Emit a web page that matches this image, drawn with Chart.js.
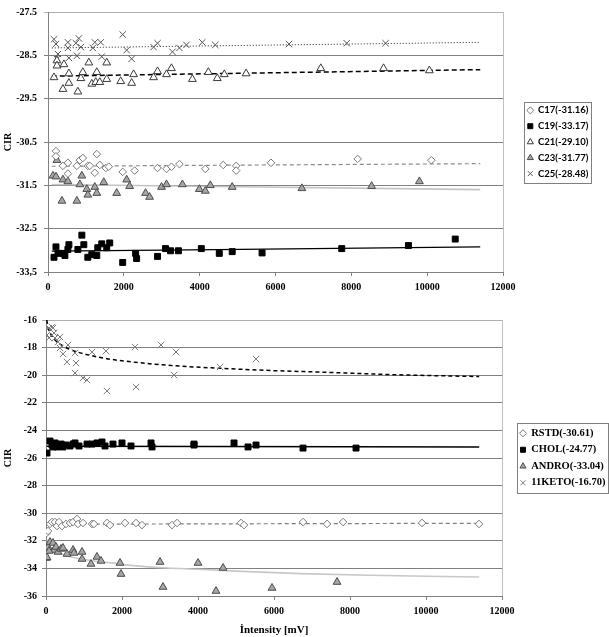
<!DOCTYPE html>
<html><head><meta charset="utf-8">
<script src="https://cdn.jsdelivr.net/npm/chart.js@4/dist/chart.umd.min.js"></script>
<style>
html,body{margin:0;padding:0;background:#fff;}
#wrap{position:relative;width:609px;height:637px;overflow:hidden;}
#c1{position:absolute;left:0;top:0;}
#c2{position:absolute;left:0;top:300px;}
</style></head><body>
<div id="wrap"><canvas id="c1" width="609" height="300"></canvas><canvas id="c2" width="609" height="337"></canvas></div>
<script>
// ---------- DATA: top chart ----------
const topLabels = ['C17(-31.16)','C19(-33.17)','C21(-29.10)','C23(-31.77)','C25(-28.48)'];
const xTicks = [0,2000,4000,6000,8000,10000,12000];
const yTopTicks = [-33.5,-32.5,-31.5,-30.5,-29.5,-28.5,-27.5];
const yTopTickLabels = ['-33,5','-32.5','-31.5','-30.5','-29.5','-28.5','-27.5'];

const c17 = [[210,-30.71],[210,-30.83],[394,-31.05],[525,-30.98],[525,-31.23],[762,-31.05],[840,-30.92],[919,-30.87],[1050,-31.05],[1103,-31.05],[1234,-31.21],[1287,-30.78],[1366,-31.03],[1523,-31.10],[1602,-31.07],[1970,-31.19],[2285,-31.16],[2889,-31.10],[3125,-31.12],[3256,-31.07],[3466,-31.01],[4149,-31.12],[4622,-31.03],[4963,-31.05],[4963,-31.16],[5882,-30.98],[8167,-30.89],[10110,-30.92]];
const c19 = [[158,-33.16],[210,-32.92],[263,-33.07],[394,-33.07],[446,-33.12],[525,-32.98],[551,-32.87],[788,-32.98],[893,-32.65],[945,-32.87],[1050,-33.16],[1155,-33.10],[1287,-33.12],[1313,-32.94],[1418,-32.85],[1549,-32.94],[1628,-32.83],[1970,-33.28],[2311,-33.07],[2337,-33.19],[2889,-33.14],[3099,-32.96],[3230,-33.01],[3440,-33.01],[4044,-32.96],[4517,-33.07],[4858,-33.03],[5646,-33.06],[7747,-32.96],[9506,-32.89],[10740,-32.74]];
const c21 = [[158,-29.01],[236,-28.62],[236,-28.74],[420,-28.71],[394,-29.28],[551,-28.92],[551,-29.14],[788,-29.34],[867,-29.03],[919,-28.89],[1077,-28.67],[1155,-29.16],[1260,-29.12],[1287,-28.89],[1366,-29.12],[1549,-29.05],[1549,-28.67],[1917,-29.10],[2206,-29.14],[2258,-28.94],[2784,-29.01],[2889,-28.87],[3125,-28.94],[3256,-28.80],[3808,-29.05],[4228,-28.89],[4464,-29.03],[4650,-28.94],[5225,-28.92],[7195,-28.80],[8850,-28.80],[10058,-28.85]];
const c23 = [[131,-31.28],[210,-31.30],[236,-30.92],[368,-31.86],[394,-31.37],[525,-31.41],[762,-31.86],[840,-31.48],[893,-31.28],[1024,-31.59],[1050,-31.72],[1234,-31.54],[1287,-31.68],[1471,-31.43],[1812,-31.68],[2075,-31.37],[2153,-31.52],[2573,-31.68],[2679,-31.77],[2994,-31.54],[3125,-31.48],[3545,-31.48],[3992,-31.59],[4149,-31.63],[4281,-31.50],[4858,-31.54],[6696,-31.57],[8535,-31.52],[9795,-31.41]];
const c25 = [[158,-28.13],[210,-28.24],[263,-28.47],[236,-28.58],[525,-28.20],[525,-28.33],[551,-28.56],[735,-28.22],[814,-28.11],[867,-28.31],[762,-28.51],[1182,-28.33],[1234,-28.20],[1392,-28.20],[1418,-28.53],[1970,-28.02],[2075,-28.38],[2206,-28.58],[2784,-28.31],[2889,-28.22],[3283,-28.42],[3466,-28.33],[3650,-28.26],[4070,-28.20],[4412,-28.26],[6355,-28.24],[7878,-28.22],[8903,-28.22]];
const c17Trend = [[100,-31.06],[11400,-31.00]];
const c19Trend = [[100,-33.02],[11400,-32.92]];
const c21Trend = [[100,-28.98],[11400,-28.83]];
const c23Trend = [[100,-31.48],[11400,-31.60]];
const c25Trend = [[100,-28.33],[11400,-28.20]];

// ---------- DATA: bottom chart ----------
const botLabels = ['RSTD(-30.61)','CHOL(-24.77)','ANDRO(-33.04)','11KETO(-16.70)'];
const yBotTicks = [-36,-34,-32,-30,-28,-26,-24,-22,-20,-18,-16];
const yBotTickLabels = ['-36','-34','-32','-30','-28','-26','-24','-22','-20','-18','-16'];

const rstd = [[20,-31.43],[53,-31.29],[105,-30.78],[158,-30.64],[237,-30.64],[290,-30.93],[342,-30.64],[421,-30.93],[526,-30.78],[632,-30.71],[711,-30.64],[816,-30.42],[842,-30.78],[974,-30.71],[1211,-30.78],[1263,-30.78],[1605,-30.71],[1684,-30.86],[2079,-30.71],[2369,-30.71],[2527,-30.86],[3316,-30.86],[3448,-30.71],[5132,-30.71],[5211,-30.86],[6764,-30.64],[7396,-30.78],[7817,-30.64],[9896,-30.71],[11396,-30.78]];
const chol = [[26,-25.64],[105,-24.77],[158,-25.06],[184,-25.20],[237,-24.91],[290,-25.20],[316,-25.13],[395,-24.99],[420,-25.06],[447,-25.20],[526,-25.06],[632,-25.13],[711,-24.99],[763,-24.91],[869,-25.13],[1079,-24.99],[1211,-24.99],[1342,-24.91],[1474,-24.84],[1553,-25.13],[1763,-24.99],[2000,-24.91],[2237,-25.13],[2764,-24.91],[2790,-25.20],[3895,-24.99],[3895,-25.06],[4948,-24.91],[5317,-25.20],[5527,-25.06],[6764,-25.28],[8159,-25.28]];
const andro = [[10,-33.25],[26,-33.20],[53,-32.45],[105,-32.09],[184,-32.16],[211,-32.67],[79,-32.74],[263,-32.45],[316,-32.81],[395,-32.59],[447,-32.52],[553,-32.96],[711,-32.67],[737,-32.88],[948,-32.81],[948,-33.32],[1184,-33.68],[1342,-33.17],[1448,-33.46],[1948,-33.61],[1974,-34.41],[3000,-33.54],[3079,-35.35],[4001,-33.61],[4474,-35.64],[4659,-33.97],[5948,-35.42],[7659,-34.99]];
const keto = [[26,-17.09],[79,-16.58],[158,-16.51],[184,-16.58],[211,-16.94],[79,-17.30],[237,-17.30],[368,-17.23],[316,-17.59],[368,-18.03],[447,-18.46],[579,-17.81],[553,-19.04],[763,-18.39],[790,-19.12],[763,-19.84],[974,-20.20],[1079,-20.35],[1211,-18.32],[1579,-18.25],[1605,-21.14],[2342,-17.96],[2369,-20.86],[3027,-17.81],[3369,-19.99],[3422,-18.32],[4580,-19.41],[5527,-18.83]];
const rstdTrend = [[20,-30.80],[11400,-30.73]];
const cholTrend = [[20,-25.15],[11400,-25.20]];
const androTrend = [[30,-31.9],[100,-32.4],[237,-32.7],[500,-33.05],[1000,-33.35],[1700,-33.6],[2300,-33.8],[3200,-33.97],[4000,-34.06],[5000,-34.2],[6700,-34.38],[8500,-34.5],[11400,-34.62]];
const ketoTrend = [[20,-16.0],[60,-16.6],[120,-17.0],[237,-17.45],[400,-17.8],[600,-18.1],[1000,-18.45],[1600,-18.8],[2300,-19.05],[3300,-19.3],[4600,-19.5],[5800,-19.65],[7500,-19.8],[9000,-19.95],[11400,-20.1]];

// ---------- helpers ----------
const pts = a => a.map(([x,y]) => ({x, y}));
function scat(label, data, style) {
  return Object.assign({label, data: pts(data), showLine: false, borderWidth: 1}, style);
}
function trend(data, style) {
  return Object.assign({label: '', isTrend: true, data: pts(data), showLine: true, pointRadius: 0,
    pointHoverRadius: 0, fill: false, tension: 0, cubicInterpolationMode: 'monotone'}, style);
}
const serif = 'Liberation Serif, Times New Roman, serif';
const tickFont = {family: serif, weight: 'bold', size: 10, lineHeight: 1};

const framePlugin = {
  id: 'frameLegend',
  afterInit(chart) {
    const lg = chart.legend;
    if (lg && !lg._patched) {
      const orig = lg.fit.bind(lg);
      lg.fit = function() { orig(); if (this.options.display) this.width = chart.options.plugins.frameLegend.legendWidth; };
      lg._patched = true;
    }
  },
  afterLayout(chart, args, o) {
    const lg = chart.legend;
    const a = chart.chartArea;
    const w = lg.right - lg.left;
    lg.left = o.legendLeft; lg.right = o.legendLeft + w;
    lg.top = a.top; lg.bottom = a.bottom; lg.height = a.bottom - a.top;
  },
  beforeDraw(chart, args, o) {
    const {ctx, chartArea: a} = chart;
    ctx.save();
    ctx.fillStyle = '#fff'; ctx.fillRect(0, 0, chart.width, chart.height);
    ctx.strokeStyle = o.frameColor; ctx.lineWidth = 1;
    ctx.strokeRect(Math.round(a.left) + 0.5, Math.round(a.top) + 0.5, Math.round(a.right - a.left), Math.round(a.bottom - a.top));
    ctx.restore();
  },
  afterDraw(chart, args, o) {
    const hb = chart.legend.legendHitBoxes;
    if (!hb || !hb.length) return;
    let l = Infinity, t = Infinity, r = -Infinity, b = -Infinity;
    hb.forEach(h => { l = Math.min(l, h.left); t = Math.min(t, h.top); r = Math.max(r, h.left + h.width); b = Math.max(b, h.top + h.height); });
    const ctx = chart.ctx;
    ctx.save();
    ctx.strokeStyle = '#7f7f7f'; ctx.lineWidth = 1;
    ctx.strokeRect(Math.round(l - o.boxPadX) + 0.5, Math.round(t - o.boxPadY) + 0.5, Math.round(r - l + 2 * o.boxPadX), Math.round(b - t + 2 * o.boxPadY));
    ctx.restore();
  }
};

function makeOptions(cfg) {
  return {
    responsive: false, animation: false, devicePixelRatio: 1, events: [],
    layout: {padding: {top: cfg.padTop, right: 0, bottom: 0, left: 0}},
    plugins: {
      tooltip: {enabled: false},
      frameLegend: {legendWidth: cfg.legendWidth, legendLeft: cfg.legendLeft, frameColor: '#bfbfbf', boxPadX: 3, boxPadY: cfg.boxPadY},
      legend: {
        position: 'right', align: 'center',
        labels: {
          usePointStyle: true, boxWidth: 6, boxHeight: 5, padding: cfg.legendPad, color: '#000',
          font: cfg.legendFont,
          filter: (item, data) => !data.datasets[item.datasetIndex].isTrend
        }
      }
    },
    scales: {
      x: {
        type: 'linear', min: 0, max: 12000,
        afterBuildTicks: s => { s.ticks = xTicks.map(v => ({value: v})); },
        ticks: {callback: v => String(v), font: tickFont, color: '#000', padding: 6, maxRotation: 0, autoSkip: false},
        grid: {display: true, drawOnChartArea: false, drawTicks: true, tickLength: 4, color: '#808080'},
        border: {display: true, color: '#808080', width: 1},
        title: cfg.xTitle,
        afterFit: s => { s.height = cfg.xHeight; }
      },
      y: {
        type: 'linear', min: cfg.yMin, max: cfg.yMax,
        afterBuildTicks: s => { s.ticks = cfg.yTicks.map(v => ({value: v})); },
        ticks: {callback: v => cfg.yLabels[cfg.yTicks.indexOf(v)], font: tickFont, color: '#000', padding: cfg.yPad, autoSkip: false},
        grid: {drawTicks: true, tickLength: 4, lineWidth: 1,
          color: c => (c.tick && c.tick.value === cfg.yMax) ? '#b0b0b0' : '#808080'},
        border: {display: true, color: '#808080', width: 1},
        title: {display: true, text: 'CIR', font: {family: serif, weight: 'bold', size: 10}, color: '#000', padding: {top: 2, bottom: 0}},
        afterFit: s => { s.width = cfg.yWidth; }
      }
    }
  };
}

const white = '#ffffff';
new Chart(document.getElementById('c1'), {
  type: 'scatter',
  data: {datasets: [
    scat(topLabels[0], c17, {pointStyle: 'rectRot', pointRadius: 3.8, backgroundColor: white, borderColor: '#7a7a7a'}),
    scat(topLabels[1], c19, {pointStyle: 'rect', pointRadius: 4.2, backgroundColor: '#000', borderColor: '#000'}),
    scat(topLabels[2], c21, {pointStyle: 'triangle', pointRadius: 4.5, backgroundColor: white, borderColor: '#3a3a3a'}),
    scat(topLabels[3], c23, {pointStyle: 'triangle', pointRadius: 4.5, backgroundColor: '#a6a6a6', borderColor: '#4d4d4d'}),
    scat(topLabels[4], c25, {pointStyle: 'crossRot', pointRadius: 4.5, backgroundColor: white, borderColor: '#555555'}),
    trend(c17Trend, {borderColor: '#8c8c8c', borderWidth: 1.2, borderDash: [4, 3]}),
    trend(c19Trend, {borderColor: '#000', borderWidth: 1.2}),
    trend(c21Trend, {borderColor: '#000', borderWidth: 1.5, borderDash: [5, 3]}),
    trend(c23Trend, {borderColor: '#c4c4c4', borderWidth: 1.6}),
    trend(c25Trend, {borderColor: '#222', borderWidth: 1, borderDash: [1, 2]})
  ]},
  options: makeOptions({
    padTop: 5, legendWidth: 106, legendLeft: 521, legendPad: 6.3, boxPadY: 4,
    legendFont: {family: 'Lato, Liberation Sans, sans-serif', weight: 'bold', size: 9.5},
    xHeight: 28, xTitle: {display: false},
    yMin: -33.5, yMax: -27.5, yTicks: yTopTicks, yLabels: yTopTickLabels, yPad: 7, yWidth: 48
  }),
  plugins: [framePlugin]
});

new Chart(document.getElementById('c2'), {
  type: 'scatter',
  data: {datasets: [
    scat(botLabels[0], rstd, {pointStyle: 'rectRot', pointRadius: 3.8, backgroundColor: white, borderColor: '#7a7a7a'}),
    scat(botLabels[1], chol, {pointStyle: 'rect', pointRadius: 4.2, backgroundColor: '#000', borderColor: '#000'}),
    scat(botLabels[2], andro, {pointStyle: 'triangle', pointRadius: 4.5, backgroundColor: '#a6a6a6', borderColor: '#4d4d4d'}),
    scat(botLabels[3], keto, {pointStyle: 'crossRot', pointRadius: 4.5, backgroundColor: white, borderColor: '#7a7a7a'}),
    trend(rstdTrend, {borderColor: '#7f7f7f', borderWidth: 1.2, borderDash: [4, 3]}),
    trend(cholTrend, {borderColor: '#000', borderWidth: 1.5}),
    trend(androTrend, {borderColor: '#c8c8c8', borderWidth: 1.6}),
    trend(ketoTrend, {borderColor: '#000', borderWidth: 1.5, borderDash: [4, 3]})
  ]},
  options: makeOptions({
    padTop: 20, legendWidth: 107, legendLeft: 514, legendPad: 6, boxPadY: 5,
    legendFont: {family: serif, weight: 'bold', size: 10.5},
    xHeight: 41,
    xTitle: {display: true, text: 'İntensity [mV]', font: {family: serif, weight: 'bold', size: 11}, color: '#000', padding: {top: 0, bottom: 0}},
    yMin: -36, yMax: -16, yTicks: yBotTicks, yLabels: yBotTickLabels, yPad: 5, yWidth: 46
  }),
  plugins: [framePlugin]
});
</script>
</body></html>
